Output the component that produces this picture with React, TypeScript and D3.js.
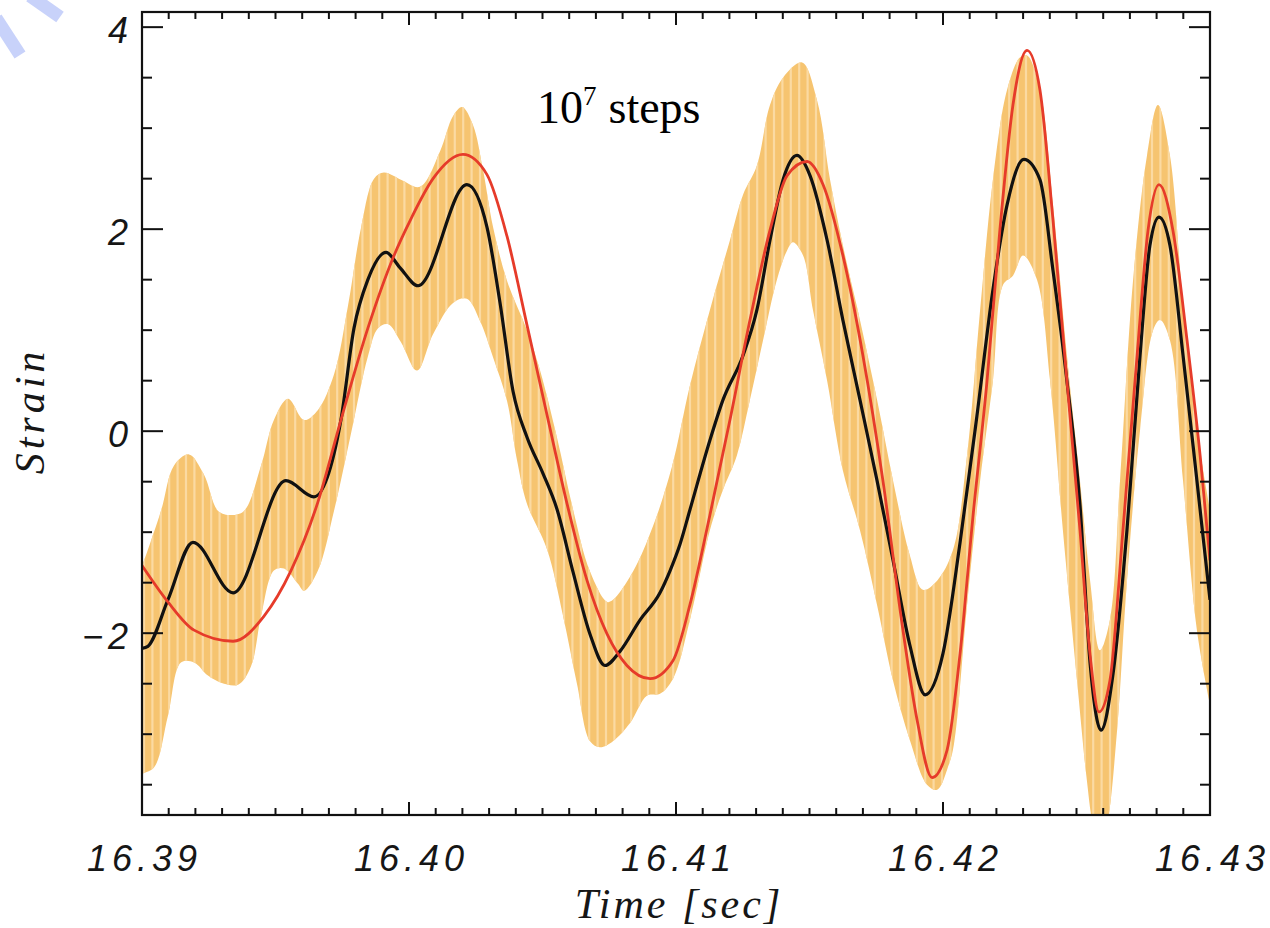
import React from 'react';
import * as d3 from 'd3';

// ---- axis definitions ----
const xDomain: [number, number] = [16.39, 16.43];
const yDomain: [number, number] = [-3.8, 4.15];
const xTickValues = [16.39, 16.4, 16.41, 16.42, 16.43];
const xTickLabels = ['16.39', '16.40', '16.41', '16.42', '16.43'];
const yTickValues = [-2, 0, 2, 4];
const yTickLabels = ['\u22122', '0', '2', '4'];
const xMinorStep = 0.001;
const yMinorStep = 0.5;
const xLabel = 'Time [sec]';
const yLabel = 'Strain';
const annotationBase = '10';
const annotationSup = '7';
const annotationRest = 'steps';

// ---- data: [time (s), strain] ----
const blackLine: [number, number][] = [
  [16.39, -2.15], [16.39022, -2.13], [16.39097, -1.67], [16.39191, -1.1], [16.39341, -1.6],
  [16.39539, -0.49], [16.39644, -0.65], [16.39745, 0.11], [16.39794, 1.02], [16.39846, 1.5],
  [16.39914, 1.77], [16.39966, 1.62], [16.40034, 1.44], [16.40217, 2.44], [16.40292, 2.02],
  [16.40341, 1.27], [16.4039, 0.39], [16.40442, -0.06], [16.40502, -0.42], [16.40554, -0.77],
  [16.40614, -1.39], [16.40678, -2.01], [16.40734, -2.32], [16.4079, -2.18], [16.40865, -1.87],
  [16.4094, -1.6], [16.40978, -1.38], [16.41015, -1.12], [16.41052, -0.78], [16.41127, -0.09],
  [16.41176, 0.31], [16.41251, 0.75], [16.41303, 1.2], [16.41352, 1.89], [16.41401, 2.49],
  [16.41453, 2.73], [16.41502, 2.53], [16.41566, 1.89], [16.41625, 1.1], [16.41689, 0.31],
  [16.41753, -0.49], [16.41813, -1.28], [16.41876, -2.12], [16.41933, -2.61], [16.42, -2.2],
  [16.42064, -1.1], [16.42127, 0.15], [16.42187, 1.4], [16.4224, 2.24], [16.42303, 2.69],
  [16.42363, 2.49], [16.42412, 1.59], [16.42464, 0.5], [16.42513, -0.73], [16.42551, -2.3],
  [16.42592, -2.96], [16.42637, -2.4], [16.42689, -0.98], [16.42738, 0.75], [16.42775, 1.84],
  [16.42809, 2.12], [16.4285, 1.84], [16.42899, 0.75], [16.42951, -0.49], [16.43, -1.67],
];

const redLine: [number, number][] = [
  [16.39, -1.33], [16.39097, -1.69], [16.39195, -1.97], [16.39341, -2.08], [16.39457, -1.83],
  [16.39558, -1.38], [16.39659, -0.7], [16.39745, 0.11], [16.39846, 1.02], [16.39944, 1.74],
  [16.40007, 2.1], [16.4009, 2.5], [16.40202, 2.74], [16.40292, 2.54], [16.40367, 1.93],
  [16.40442, 1.05], [16.40517, 0.16], [16.40592, -0.72], [16.40667, -1.48], [16.40742, -2.01],
  [16.40816, -2.32], [16.40903, -2.45], [16.40989, -2.27], [16.41052, -1.72], [16.41127, -0.83],
  [16.41202, 0.11], [16.41277, 1.1], [16.41352, 1.99], [16.41416, 2.53], [16.41491, 2.67],
  [16.41551, 2.44], [16.41625, 1.74], [16.417, 0.75], [16.41775, -0.49], [16.4185, -1.97],
  [16.41903, -2.86], [16.41959, -3.43], [16.42015, -3.16], [16.42064, -2.2], [16.42112, -0.85],
  [16.42165, 0.5], [16.42213, 1.99], [16.42262, 3.23], [16.42315, 3.77], [16.42363, 3.38],
  [16.42412, 2.09], [16.42464, 0.5], [16.42513, -0.98], [16.42551, -2.22], [16.42584, -2.78],
  [16.42625, -2.47], [16.42674, -0.98], [16.42727, 0.75], [16.42768, 1.99], [16.42809, 2.44],
  [16.42861, 1.99], [16.42914, 0.9], [16.42963, -0.24], [16.43, -1.28],
];

const bandUpper: [number, number][] = [
  [16.39, -1.34], [16.39071, -0.79], [16.3912, -0.34], [16.39176, -0.23], [16.39232, -0.43],
  [16.39285, -0.79], [16.39333, -0.83], [16.39382, -0.79], [16.39446, -0.34], [16.39494, 0.11],
  [16.39547, 0.32], [16.39607, 0.11], [16.39659, 0.21], [16.39719, 0.56], [16.39772, 1.25],
  [16.3982, 2.01], [16.39869, 2.5], [16.39906, 2.56], [16.3997, 2.49], [16.40041, 2.42],
  [16.40116, 2.77], [16.40165, 3.12], [16.40199, 3.21], [16.4024, 3.03], [16.40277, 2.59],
  [16.40315, 2.02], [16.40367, 1.49], [16.40442, 1.0], [16.40491, 0.6], [16.40554, -0.06],
  [16.40614, -0.77], [16.40678, -1.39], [16.40742, -1.69], [16.40764, -1.67], [16.40839, -1.39],
  [16.40914, -0.94], [16.40985, -0.35], [16.41052, 0.45], [16.41127, 1.2], [16.41202, 1.89],
  [16.41251, 2.34], [16.41303, 2.63], [16.41352, 3.23], [16.41401, 3.5], [16.41472, 3.65],
  [16.41528, 3.28], [16.41577, 2.49], [16.41625, 1.84], [16.41689, 1.1], [16.41753, 0.31],
  [16.41813, -0.49], [16.41876, -1.23], [16.41925, -1.57], [16.41978, -1.48], [16.42037, -1.18],
  [16.4209, -0.24], [16.42139, 1.2], [16.42187, 2.49], [16.4224, 3.38], [16.42288, 3.7],
  [16.42315, 3.72], [16.42363, 3.38], [16.42412, 2.24], [16.42464, 0.75], [16.42513, -0.49],
  [16.42551, -1.48], [16.42588, -2.17], [16.42625, -1.87], [16.42663, -0.49], [16.42712, 1.5],
  [16.42764, 2.73], [16.42805, 3.23], [16.4285, 2.73], [16.42899, 1.25], [16.42951, 0.01],
  [16.43, -0.78],
];

const bandLower: [number, number][] = [
  [16.39, -3.39], [16.39045, -3.33], [16.39097, -2.82], [16.39146, -2.29], [16.39195, -2.29],
  [16.39247, -2.42], [16.39296, -2.49], [16.3936, -2.51], [16.39408, -2.33], [16.39446, -1.83],
  [16.39494, -1.38], [16.39532, -1.36], [16.39584, -1.51], [16.39607, -1.58], [16.39659, -1.38],
  [16.39719, -0.79], [16.39783, -0.02], [16.39846, 0.74], [16.39884, 1.02], [16.39921, 1.06],
  [16.3997, 0.88], [16.4003, 0.6], [16.4009, 0.96], [16.40165, 1.27], [16.40217, 1.31],
  [16.40266, 1.09], [16.40315, 0.73], [16.40367, 0.3], [16.40404, -0.28], [16.40442, -0.72],
  [16.40517, -1.17], [16.40577, -1.83], [16.40629, -2.5], [16.40678, -3.07], [16.40715, -3.13],
  [16.40764, -3.07], [16.40828, -2.89], [16.40891, -2.62], [16.4094, -2.6], [16.40989, -2.45],
  [16.41052, -1.87], [16.41127, -0.98], [16.41176, -0.58], [16.41228, -0.24], [16.41277, 0.31],
  [16.41326, 0.9], [16.41378, 1.5], [16.41416, 1.79], [16.41438, 1.87], [16.41476, 1.74],
  [16.41513, 1.2], [16.41566, 0.5], [16.41625, -0.39], [16.41689, -0.98], [16.41753, -1.72],
  [16.41813, -2.47], [16.41876, -3.06], [16.4194, -3.5], [16.41978, -3.55], [16.42022, -3.3],
  [16.42041, -3.1], [16.4209, -1.72], [16.42139, -0.49], [16.42187, 0.5], [16.42225, 1.45],
  [16.42262, 1.54], [16.423, 1.74], [16.42352, 1.5], [16.42401, 0.5], [16.42449, -0.98],
  [16.42502, -2.47], [16.42539, -3.46], [16.42562, -3.9], [16.42588, -4.1], [16.42614, -3.9],
  [16.42652, -2.96], [16.42689, -1.48], [16.42738, 0.01], [16.42787, 1.0], [16.42813, 1.1],
  [16.4285, 0.9], [16.42899, -0.49], [16.42951, -1.97], [16.43, -2.71],
];

export default function App() {
  const W = 1270;
  const H = 928;
  const left = 142;
  const right = 1210;
  const top = 12;
  const bottom = 815;

  const x = d3.scaleLinear().domain(xDomain).range([left, right]);
  const y = d3.scaleLinear().domain(yDomain).range([bottom, top]);

  const line = d3
    .line<[number, number]>()
    .x((d) => x(d[0]))
    .y((d) => y(d[1]))
    .curve(d3.curveMonotoneX);

  const smooth = d3
    .line<[number, number]>()
    .x((d) => x(d[0]))
    .y((d) => y(d[1]))
    .curve(d3.curveCatmullRom.alpha(0.5));

  // Band polygon: upper edge forward, lower edge backward
  const upperPath = smooth(bandUpper) || '';
  const lowerRevPath = smooth(bandLower.slice().reverse()) || '';
  const bandPath = upperPath + 'L' + lowerRevPath.slice(1) + 'Z';

  const stripeXs = d3.range(left + 2, right, 8.4);

  const xMinor = d3
    .range(0, Math.round((xDomain[1] - xDomain[0]) / xMinorStep) + 1)
    .map((i) => xDomain[0] + i * xMinorStep);
  const yMinor = d3
    .range(Math.ceil(yDomain[0] / yMinorStep), Math.floor(yDomain[1] / yMinorStep) + 1)
    .map((i) => i * yMinorStep);

  const isMajorX = (v: number) => xTickValues.some((t) => Math.abs(t - v) < 1e-7);
  const isMajorY = (v: number) => yTickValues.some((t) => Math.abs(t - v) < 1e-7);

  const tickFont = {
    fontFamily: '"Liberation Sans", Arial, sans-serif',
    fontStyle: 'italic' as const,
    fontSize: 36,
    letterSpacing: 5,
    fill: '#161616',
  };
  const labelFont = {
    fontFamily: '"Liberation Serif", "Times New Roman", serif',
    fontStyle: 'italic' as const,
    fontSize: 42,
    fill: '#161616',
  };

  return (
    <svg
      width={W}
      height={H}
      viewBox={`0 0 ${W} ${H}`}
      style={{ position: 'absolute', left: 0, top: 0, background: '#fff' }}
    >
      <defs>
        <clipPath id="plotClip">
          <rect x={left} y={top} width={right - left} height={bottom - top} />
        </clipPath>
        <clipPath id="bandClip">
          <path d={bandPath} />
        </clipPath>
      </defs>

      {/* watermark stripes */}
      <line x1={30} y1={-4} x2={60} y2={17} stroke="#c8d2fa" strokeWidth={13} />
      <line x1={-4} y1={18} x2={20} y2={55} stroke="#c8d2fa" strokeWidth={13} />

      <g clipPath="url(#plotClip)">
        <path d={bandPath} fill="#f6c470" />
        <g clipPath="url(#bandClip)">
          {stripeXs.map((sx, i) => (
            <line key={i} x1={sx} x2={sx} y1={top} y2={bottom} stroke="#fbdaa2" strokeWidth={2.2} />
          ))}
        </g>
        <path d={line(blackLine) || ''} fill="none" stroke="#111" strokeWidth={3.2} strokeLinejoin="round" />
        <path d={line(redLine) || ''} fill="none" stroke="#e63b2a" strokeWidth={2.8} strokeLinejoin="round" />
      </g>

      {/* frame */}
      <rect x={left} y={top} width={right - left} height={bottom - top} fill="none" stroke="#111" strokeWidth={2.2} />

      {/* x ticks bottom & top */}
      {xMinor.map((v, i) => {
        const len = isMajorX(v) ? 13 : 7;
        const px = x(v);
        return (
          <g key={'xt' + i}>
            <line x1={px} x2={px} y1={bottom} y2={bottom - len} stroke="#111" strokeWidth={2} />
            <line x1={px} x2={px} y1={top} y2={top + len} stroke="#111" strokeWidth={2} />
          </g>
        );
      })}
      {/* y ticks left & right */}
      {yMinor.map((v, i) => {
        const len = isMajorY(v) ? 21 : 10;
        const py = y(v);
        return (
          <g key={'yt' + i}>
            <line x1={left} x2={left + len} y1={py} y2={py} stroke="#111" strokeWidth={2} />
            <line x1={right} x2={right - len} y1={py} y2={py} stroke="#111" strokeWidth={2} />
          </g>
        );
      })}

      {/* x tick labels */}
      {xTickValues.map((v, i) => (
        <text key={'xl' + i} x={x(v) + 2.5} y={871} textAnchor="middle" {...tickFont}>
          {xTickLabels[i]}
        </text>
      ))}
      {/* y tick labels */}
      {yTickValues.map((v, i) => (
        <text key={'yl' + i} x={133} y={y(v) + 16} textAnchor="end" {...tickFont}>
          {yTickLabels[i]}
        </text>
      ))}

      {/* axis titles */}
      <text x={679} y={918} textAnchor="middle" {...labelFont} letterSpacing={3}>
        {xLabel}
      </text>
      <text
        transform="translate(44,411) rotate(-90)"
        textAnchor="middle"
        {...labelFont}
        letterSpacing={4}
      >
        {yLabel}
      </text>

      {/* annotation */}
      <text x={537} y={123} fontFamily='"Liberation Serif", "Times New Roman", serif' fontSize={46} fill="#000">
        {annotationBase}
        <tspan fontSize={27} dy={-18}>
          {annotationSup}
        </tspan>
        <tspan dy={18} dx={12}>
          {annotationRest}
        </tspan>
      </text>
    </svg>
  );
}
